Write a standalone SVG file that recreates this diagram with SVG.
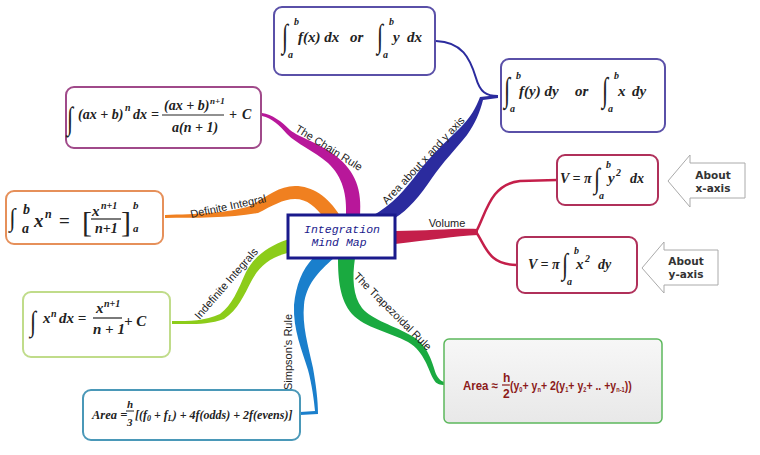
<svg xmlns="http://www.w3.org/2000/svg" width="760" height="455" viewBox="0 0 760 455">
<defs>
<linearGradient id="gray" x1="0" y1="0" x2="0" y2="1">
<stop offset="0" stop-color="#f7f7f7"/><stop offset="1" stop-color="#e8e8e8"/>
</linearGradient>
<style>
.box{fill:#fff;stroke-width:2}
.m{font-family:"Liberation Serif",serif;font-style:italic;font-weight:bold;fill:#222}
.up{font-family:"Liberation Serif",serif;font-style:normal;font-weight:normal;fill:#222}
.int{font-family:"Liberation Serif",serif;font-style:italic;font-weight:normal;font-size:22px;fill:#222}
.lab{font-family:"Liberation Sans",Arial,sans-serif;font-size:11px;fill:#222}
.ctr{font-family:"Liberation Mono",monospace;font-style:italic;font-size:11.5px;fill:#1a1a8c}
.ab{font-family:"DejaVu Sans",sans-serif;font-weight:bold;font-size:10.5px;fill:#333;text-anchor:middle}
.tr{font-family:"Liberation Sans",Arial,sans-serif;font-weight:bold;fill:#8b1a1a}
.arrow{fill:#fff;stroke:#aaa;stroke-width:1}
</style>
</defs>

<g id="connectors">
<path d="M360,216 C362,190 356,172 336,156 C318,142 300,138 290,130 C282,122 272,114 262,113 L262,116 C272,118 280,126 287,134 C297,144 314,151 328,163 C343,177 347,195 346,216 Z" fill="#b8179a"/>
<path d="M372,216 C392,205 405,190 420,170 C434,152 448,140 460,128 C470,118 476,108 480,97 L498,95 L498,98 L483,100 C480,112 475,124 467,135 C455,150 443,162 432,178 C420,196 408,210 395,218 Z" fill="#2b2b9e"/>
<path d="M436,41 C462,42 470,58 476,78 C480,92 486,96 498,96" fill="none" stroke="#2b2b9e" stroke-width="2"/>
<path d="M340,216 C328,196 312,186 295,186 C278,186 265,198 250,206 C230,213 195,214 165,215 L165,218 C195,218 232,218 258,213 C272,206 283,199 295,199 C307,199 316,207 324,218 Z" fill="#f08020"/>
<path d="M395,231 C430,231 455,228 478,229 L478,235 C455,236 430,240 395,244 Z" fill="#c41f4a"/>
<path d="M476,232 C486,214 490,184 520,181 L557,180" fill="none" stroke="#c41f4a" stroke-width="2.5"/>
<path d="M476,232 C486,246 488,265 517,265" fill="none" stroke="#c41f4a" stroke-width="2.5"/>
<path d="M292,238 C270,245 255,255 246,272 C238,290 232,305 220,314 C205,321 190,321 172,321 L172,324 C192,324 208,325 224,319 C238,310 244,295 252,280 C260,265 272,256 292,252 Z" fill="#8ccc1a"/>
<path d="M313,258 C302,270 296,285 294,305 C293,330 302,350 308,370 C312,385 314,400 315,411 L300,412 L300,415 L318,414 C318,400 316,385 313,368 C308,345 302,325 304,305 C306,285 318,272 334,258 Z" fill="#1a7fcc"/>
<path d="M338,258 C338,280 340,300 352,314 C365,328 390,332 408,342 C425,352 428,370 434,380 C436,384 440,385 445,385 L445,382 C441,382 438,378 436,374 C432,362 428,345 412,336 C395,326 372,320 362,308 C353,296 352,278 355,258 Z" fill="#1aaa40"/>

<text class="lab" font-size="12" transform="translate(327,151) rotate(32)" text-anchor="middle">The Chain Rule</text>
<text class="lab" font-size="12" transform="translate(426,163) rotate(-47)" text-anchor="middle">Area about x and y axis</text>
<text class="lab" transform="translate(229,210) rotate(-12)" text-anchor="middle">Definite Integral</text>
<text class="lab" font-size="12" x="447" y="227" text-anchor="middle">Volume</text>
<text class="lab" transform="translate(229,286) rotate(-49)" text-anchor="middle">Indefinite Integrals</text>
<text class="lab" transform="translate(292,352) rotate(-90)" text-anchor="middle">Simpson's Rule</text>
<text class="lab" transform="translate(390,314) rotate(45)" text-anchor="middle">The Trapezoidal Rule</text>
</g>

<g id="center">
<rect x="288" y="215" width="107" height="43" fill="#fff" stroke="#1a1a8c" stroke-width="3"/>
<text class="ctr" x="342" y="233" text-anchor="middle">Integration</text>
<text class="ctr" x="339" y="246" text-anchor="middle">Mind Map</text>
</g>

<g id="area-x">
<rect class="box" x="274" y="7" width="161" height="68" rx="8" stroke="#5a50a8"/>
<text class="int" transform="translate(282,47) scale(1,1.5)">∫</text>
<text class="m" x="294" y="25" font-size="10">b</text>
<text class="m" x="288" y="58" font-size="10">a</text>
<text class="m" x="298" y="42" font-size="15">f(x)  dx</text>
<text class="m" x="350" y="42" font-size="15">or</text>
<text class="int" transform="translate(377,47) scale(1,1.5)">∫</text>
<text class="m" x="389" y="25" font-size="10">b</text>
<text class="m" x="383" y="58" font-size="10">a</text>
<text class="m" x="393" y="42" font-size="15">y</text>
<text class="m" x="407" y="42" font-size="15">dx</text>
</g>

<g id="area-y">
<rect class="box" x="501" y="59" width="164" height="73" rx="8" stroke="#5a50a8"/>
<text class="int" transform="translate(504,101) scale(1,1.55)">∫</text>
<text class="m" x="516" y="79" font-size="10">b</text>
<text class="m" x="510" y="112" font-size="10">a</text>
<text class="m" x="519" y="96" font-size="15">f(y)  dy</text>
<text class="m" x="575" y="96" font-size="15">or</text>
<text class="int" transform="translate(602,101) scale(1,1.55)">∫</text>
<text class="m" x="614" y="79" font-size="10">b</text>
<text class="m" x="608" y="112" font-size="10">a</text>
<text class="m" x="618" y="96" font-size="15">x</text>
<text class="m" x="632" y="96" font-size="15">dy</text>
</g>

<g id="chain-rule">
<rect class="box" x="66" y="87" width="195" height="61" rx="8" stroke="#a04a8a"/>
<text class="int" transform="translate(67,129) scale(1,1.45)">∫</text>
<text class="m" x="78" y="119" font-size="14">(ax + b)</text>
<text class="m" x="125" y="111" font-size="10">n</text>
<text class="m" x="133" y="119" font-size="14">dx</text>
<text class="m" x="151" y="119" font-size="14">=</text>
<text class="m" x="164" y="110" font-size="14">(ax + b)</text>
<text class="m" x="210" y="104" font-size="9">n+1</text>
<line x1="162" y1="115" x2="224" y2="115" stroke="#222" stroke-width="1"/>
<text class="m" x="172" y="132" font-size="14">a(n + 1)</text>
<text class="m" x="229" y="119" font-size="14">+</text>
<text class="m" x="242" y="119" font-size="14">C</text>
</g>

<g id="definite">
<rect class="box" x="6" y="191" width="157" height="53" rx="8" stroke="#e6905a"/>
<text class="int" transform="translate(9,226) scale(1,1.15)" style="font-weight:bold">∫</text>
<text class="m" x="23" y="214" font-size="14">b</text>
<text class="m" x="22" y="233" font-size="14">a</text>
<text class="m" x="34" y="227" font-size="19">x</text>
<text class="m" x="45" y="218" font-size="12">n</text>
<text class="up" x="59" y="227" font-size="19" style="font-weight:bold">=</text>
<text class="up" x="82" y="232" font-size="30">[</text>
<text class="m" x="92" y="216" font-size="15">x</text>
<text class="m" x="101" y="209" font-size="10">n+1</text>
<line x1="91" y1="219" x2="121" y2="219" stroke="#222" stroke-width="1.2"/>
<text class="m" x="95" y="233" font-size="14">n+1</text>
<text class="up" x="121" y="232" font-size="30">]</text>
<text class="m" x="133" y="209" font-size="11">b</text>
<text class="m" x="133" y="232" font-size="11">a</text>
</g>

<g id="indefinite">
<rect class="box" x="23" y="292" width="147" height="65" rx="8" stroke="#c0dc8a"/>
<text class="int" transform="translate(30,331) scale(1,1.3)">∫</text>
<text class="m" x="43" y="323" font-size="15">x</text>
<text class="m" x="51" y="317" font-size="10">n</text>
<text class="m" x="59" y="323" font-size="15">dx =</text>
<text class="m" x="96" y="313" font-size="15">x</text>
<text class="m" x="104" y="307" font-size="10">n+1</text>
<line x1="93" y1="318" x2="122" y2="318" stroke="#222" stroke-width="1.2"/>
<text class="m" x="93" y="334" font-size="15">n + 1</text>
<text class="m" x="124" y="326" font-size="15">+ C</text>
</g>

<g id="simpson">
<rect class="box" x="83" y="390" width="217" height="50" rx="8" stroke="#4a98b8"/>
<text class="m" x="92" y="419" font-size="12.5">Area =</text>
<text class="m" x="127" y="408" font-size="11">h</text>
<line x1="126" y1="411" x2="134" y2="411" stroke="#222" stroke-width="1"/>
<text class="m" x="127" y="426" font-size="11">3</text>
<text class="m" x="135" y="419" font-size="12">[(f<tspan font-size="8" dy="2">0</tspan><tspan dy="-2"> + f</tspan><tspan font-size="8" dy="2">L</tspan><tspan dy="-2">) + 4f(odds) + 2f(evens)]</tspan></text>
</g>

<g id="trapezoid">
<rect x="444" y="339" width="218" height="84" rx="5" fill="url(#gray)" stroke="#5cb85c" stroke-width="1.5"/>
<text class="tr" font-size="13" transform="translate(463,390) scale(0.88,1)">Area ≈</text>
<text class="tr" x="503" y="382" font-size="12">h</text>
<line x1="502" y1="385" x2="510" y2="385" stroke="#8b1a1a" stroke-width="1.2"/>
<text class="tr" x="503" y="398" font-size="12">2</text>
<text class="tr" font-size="13" transform="translate(510,390) scale(0.81,1)">(y<tspan font-size="7" dy="2">0</tspan><tspan dy="-2">+ y</tspan><tspan font-size="7" dy="2">n</tspan><tspan dy="-2">+ 2(y</tspan><tspan font-size="7" dy="2">1</tspan><tspan dy="-2">+ y</tspan><tspan font-size="7" dy="2">2</tspan><tspan dy="-2">+ .. +y</tspan><tspan font-size="7" dy="2">n-1</tspan><tspan dy="-2">))</tspan></text>
</g>

<g id="volume-x">
<rect class="box" x="557" y="155" width="101" height="50" rx="8" stroke="#b0305a"/>
<text class="m" x="560" y="183" font-size="14">V = π</text>
<text class="int" transform="translate(594,188) scale(1,1.3)">∫</text>
<text class="m" x="606" y="168" font-size="10">b</text>
<text class="m" x="599" y="199" font-size="10">a</text>
<text class="m" x="608" y="183" font-size="15">y</text>
<text class="m" x="616" y="176" font-size="10">2</text>
<text class="m" x="630" y="183" font-size="14">dx</text>
</g>

<g id="volume-y">
<rect class="box" x="517" y="237" width="120" height="56" rx="8" stroke="#b0305a"/>
<text class="m" x="528" y="269" font-size="14">V = π</text>
<text class="int" transform="translate(562,274) scale(1,1.35)">∫</text>
<text class="m" x="574" y="254" font-size="10">b</text>
<text class="m" x="567" y="285" font-size="10">a</text>
<text class="m" x="576" y="269" font-size="15">x</text>
<text class="m" x="585" y="262" font-size="10">2</text>
<text class="m" x="598" y="269" font-size="14">dy</text>
</g>

<g id="about-x">
<polygon class="arrow" points="668,181 690,155 690,163 745,163 745,198 690,198 690,207"/>
<text class="ab" x="713" y="179">About</text>
<text class="ab" x="713" y="192">x-axis</text>
</g>

<g id="about-y">
<polygon class="arrow" points="642,268 664,242 664,250 718,250 718,285 664,285 664,293"/>
<text class="ab" x="686" y="265">About</text>
<text class="ab" x="686" y="278">y-axis</text>
</g>
</svg>
